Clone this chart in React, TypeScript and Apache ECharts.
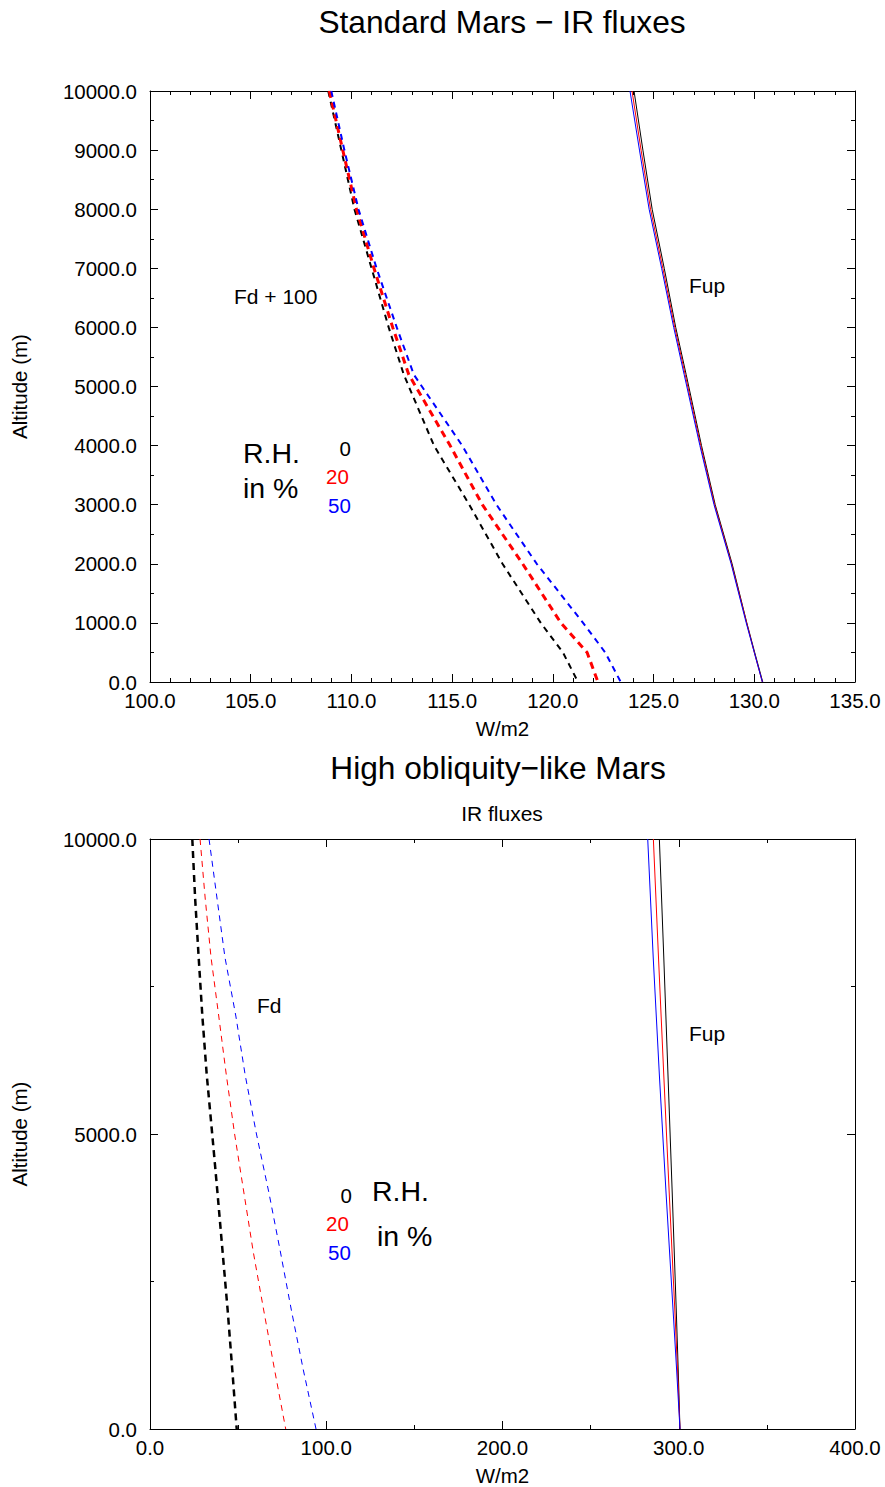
import React, { useEffect, useRef } from "react";
import * as echarts from "echarts";

// ---------- Data ----------
// Standard Mars (top panel)
const TOP_ALT = [10000, 9000, 8000, 7000, 6000, 5200, 4000, 3000, 2000, 1000, 500, 0];
const TOP_FD_RH0 = [108.85, 109.5, 110.15, 111.0, 111.85, 112.6, 114.1, 115.85, 117.5, 119.4, 120.5, 121.25];
const TOP_FD_RH20 = [108.9, 109.57, 110.25, 111.12, 112.05, 112.85, 114.9, 116.5, 118.5, 120.4, 121.7, 122.24];
const TOP_FD_RH50 = [109.0, 109.65, 110.35, 111.25, 112.25, 113.1, 115.5, 117.2, 119.2, 121.5, 122.6, 123.37];
const TOP_FUP_RH0 = [124.03, 124.47, 124.93, 125.53, 126.1, 126.62, 127.38, 128.06, 128.9, 129.63, 130.02, 130.42];
const TOP_FUP_RH20 = [123.93, 124.38, 124.85, 125.46, 126.05, 126.57, 127.34, 128.03, 128.87, 129.62, 130.0, 130.4];
const TOP_FUP_RH50 = [123.83, 124.3, 124.78, 125.4, 126.0, 126.52, 127.3, 128.0, 128.85, 129.6, 130.0, 130.4];

// High obliquity-like Mars (bottom panel)
const BOT_FD_ALT = [10000, 9000, 8000, 7000, 6000, 5000, 4000, 3000, 2000, 1000, 0];
const BOT_FD_RH0 = [24.0, 25.6, 27.6, 29.7, 32.2, 35.3, 38.3, 41.2, 44.1, 46.7, 49.2];
const BOT_FD_RH20 = [28.4, 31.3, 34.6, 39.0, 43.3, 48.0, 53.3, 58.6, 64.6, 70.7, 77.0];
const BOT_FD_RH50 = [33.5, 38.0, 42.5, 48.7, 54.0, 60.4, 67.5, 74.0, 80.3, 87.0, 94.2];
const BOT_FUP_ALT = [10000, 8000, 6000, 4000, 2000, 1000, 0];
const BOT_FUP_RH0 = [289.0, 291.5, 293.9, 296.3, 298.6, 299.7, 300.7];
const BOT_FUP_RH20 = [285.6, 288.5, 291.5, 294.6, 297.8, 299.3, 300.7];
const BOT_FUP_RH50 = [282.4, 285.5, 289.0, 292.8, 296.8, 298.8, 300.7];

const RH_LABELS = ["0", "20", "50"];
const RH_COLORS = ["#000000", "#ff0000", "#0000ff"];

const FONT = "'Liberation Sans', Arial, Helvetica, sans-serif";

function pairs(xs: number[], ys: number[]) {
  return xs.map((x, i) => [x, ys[i]]);
}

export default function App() {
  const ref = useRef<HTMLDivElement>(null);

  useEffect(() => {
    if (!ref.current) return;
    const chart = echarts.init(ref.current, undefined, { renderer: "svg" });

    const axisLine = { show: true, onZero: false, lineStyle: { color: "#000", width: 1 } };
    const fmt = (v: number) => v.toFixed(1);

    const xMain = (gridIndex: number, min: number, max: number, interval: number, minorSplit: number) => ({
      type: "value",
      gridIndex,
      position: "bottom",
      min,
      max,
      interval,
      name: "W/m2",
      nameLocation: "middle",
      nameGap: 36,
      nameTextStyle: { fontFamily: FONT, fontSize: 20.5, color: "#000" },
      axisLine,
      axisTick: { show: true, inside: true, length: 8, lineStyle: { color: "#000" } },
      minorTick: { show: true, splitNumber: minorSplit, length: 4, lineStyle: { color: "#000" } },
      axisLabel: { formatter: fmt, fontFamily: FONT, fontSize: 20.5, color: "#000", margin: 8 },
      splitLine: { show: false },
      minorSplitLine: { show: false },
    });
    const xTop = (gridIndex: number, min: number, max: number, interval: number, minorSplit: number) => ({
      type: "value",
      gridIndex,
      position: "top",
      min,
      max,
      interval,
      axisLine,
      axisTick: { show: true, inside: true, length: 8, lineStyle: { color: "#000" } },
      minorTick: { show: true, splitNumber: minorSplit, length: 4, lineStyle: { color: "#000" } },
      axisLabel: { show: false },
      splitLine: { show: false },
    });
    const yMain = (gridIndex: number, interval: number, minorSplit: number) => ({
      type: "value",
      gridIndex,
      position: "left",
      min: 0,
      max: 10000,
      interval,
      name: "Altitude (m)",
      nameLocation: "middle",
      nameRotate: 90,
      nameGap: 120,
      nameTextStyle: { fontFamily: FONT, fontSize: 20.5, color: "#000" },
      axisLine,
      axisTick: { show: true, inside: true, length: 8, lineStyle: { color: "#000" } },
      minorTick: { show: true, splitNumber: minorSplit, length: 4, lineStyle: { color: "#000" } },
      axisLabel: { formatter: fmt, fontFamily: FONT, fontSize: 20.5, color: "#000", margin: 13 },
      splitLine: { show: false },
      minorSplitLine: { show: false },
    });
    const yRight = (gridIndex: number, interval: number, minorSplit: number) => ({
      type: "value",
      gridIndex,
      position: "right",
      min: 0,
      max: 10000,
      interval,
      axisLine,
      axisTick: { show: true, inside: true, length: 8, lineStyle: { color: "#000" } },
      minorTick: { show: true, splitNumber: minorSplit, length: 4, lineStyle: { color: "#000" } },
      axisLabel: { show: false },
      splitLine: { show: false },
    });

    const line = (
      name: string,
      xi: number,
      yi: number,
      data: number[][],
      color: string,
      width: number,
      dash: number[] | "solid"
    ) => ({
      type: "line",
      name,
      xAxisIndex: xi,
      yAxisIndex: yi,
      data,
      showSymbol: false,
      symbol: "none",
      smooth: false,
      lineStyle: { color, width, type: dash },
      z: 3,
    });

    const text = (
      str: string,
      x: number,
      y: number,
      size: number,
      color = "#000",
      align: string = "left"
    ) => ({
      type: "text",
      x,
      y,
      silent: true,
      style: {
        text: str,
        fill: color,
        fontSize: size,
        fontFamily: FONT,
        align,
        verticalAlign: "middle",
      },
    });

    const graphics: any[] = [
      text("Standard Mars \u2212 IR fluxes", 502, 22, 31.7, "#000", "center"),
      text("High obliquity\u2212like Mars", 498, 768, 31.7, "#000", "center"),
      text("IR fluxes", 502, 813, 21, "#000", "center"),
      // top panel annotations
      text("Fd + 100", 234, 296, 21),
      text("Fup", 689, 285, 21),
      text("R.H.", 243, 453, 28.5),
      text("in %", 243, 488, 28.5),
      text(RH_LABELS[0], 351, 448, 20.5, RH_COLORS[0], "right"),
      text(RH_LABELS[1], 326, 476, 20.5, RH_COLORS[1]),
      text(RH_LABELS[2], 328, 505, 20.5, RH_COLORS[2]),
      // bottom panel annotations
      text("Fd", 257, 1005, 21),
      text("Fup", 689, 1033, 21),
      text(RH_LABELS[0], 352, 1195, 20.5, RH_COLORS[0], "right"),
      text(RH_LABELS[1], 326, 1223, 20.5, RH_COLORS[1]),
      text(RH_LABELS[2], 328, 1252, 20.5, RH_COLORS[2]),
      text("R.H.", 372, 1191, 28.5),
      text("in %", 377, 1236, 28.5),
    ];

    const option: any = {
      animation: false,
      backgroundColor: "#ffffff",
      textStyle: { fontFamily: FONT },
      grid: [
        { left: 150, top: 91, width: 705, height: 591, containLabel: false },
        { left: 150, top: 839, width: 705, height: 590, containLabel: false },
      ],
      xAxis: [
        xMain(0, 100, 135, 5, 5),
        xTop(0, 100, 135, 5, 5),
        xMain(1, 0, 400, 100, 2),
        xTop(1, 0, 400, 100, 2),
      ],
      yAxis: [yMain(0, 1000, 2), yRight(0, 1000, 2), yMain(1, 5000, 2), yRight(1, 5000, 2)],
      series: [
        line("Fd RH0", 0, 0, pairs(TOP_FD_RH0, TOP_ALT), RH_COLORS[0], 2, [6, 5]),
        line("Fd RH20", 0, 0, pairs(TOP_FD_RH20, TOP_ALT), RH_COLORS[1], 3, [7, 5]),
        line("Fd RH50", 0, 0, pairs(TOP_FD_RH50, TOP_ALT), RH_COLORS[2], 2, [6, 5]),
        line("Fup RH0", 0, 0, pairs(TOP_FUP_RH0, TOP_ALT), RH_COLORS[0], 1, "solid"),
        line("Fup RH20", 0, 0, pairs(TOP_FUP_RH20, TOP_ALT), RH_COLORS[1], 1, "solid"),
        line("Fup RH50", 0, 0, pairs(TOP_FUP_RH50, TOP_ALT), RH_COLORS[2], 1, "solid"),
        line("Fd RH0 b", 2, 2, pairs(BOT_FD_RH0, BOT_FD_ALT), RH_COLORS[0], 2.5, [7, 5]),
        line("Fd RH20 b", 2, 2, pairs(BOT_FD_RH20, BOT_FD_ALT), RH_COLORS[1], 1, [6, 5]),
        line("Fd RH50 b", 2, 2, pairs(BOT_FD_RH50, BOT_FD_ALT), RH_COLORS[2], 1, [6, 5]),
        line("Fup RH0 b", 2, 2, pairs(BOT_FUP_RH0, BOT_FUP_ALT), RH_COLORS[0], 1, "solid"),
        line("Fup RH20 b", 2, 2, pairs(BOT_FUP_RH20, BOT_FUP_ALT), RH_COLORS[1], 1, "solid"),
        line("Fup RH50 b", 2, 2, pairs(BOT_FUP_RH50, BOT_FUP_ALT), RH_COLORS[2], 1, "solid"),
      ],
      graphic: graphics,
    };

    chart.setOption(option);
    return () => {
      chart.dispose();
    };
  }, []);

  return (
    <div
      ref={ref}
      style={{ position: "absolute", left: 0, top: 0, width: 885, height: 1487, background: "#fff" }}
    />
  );
}
